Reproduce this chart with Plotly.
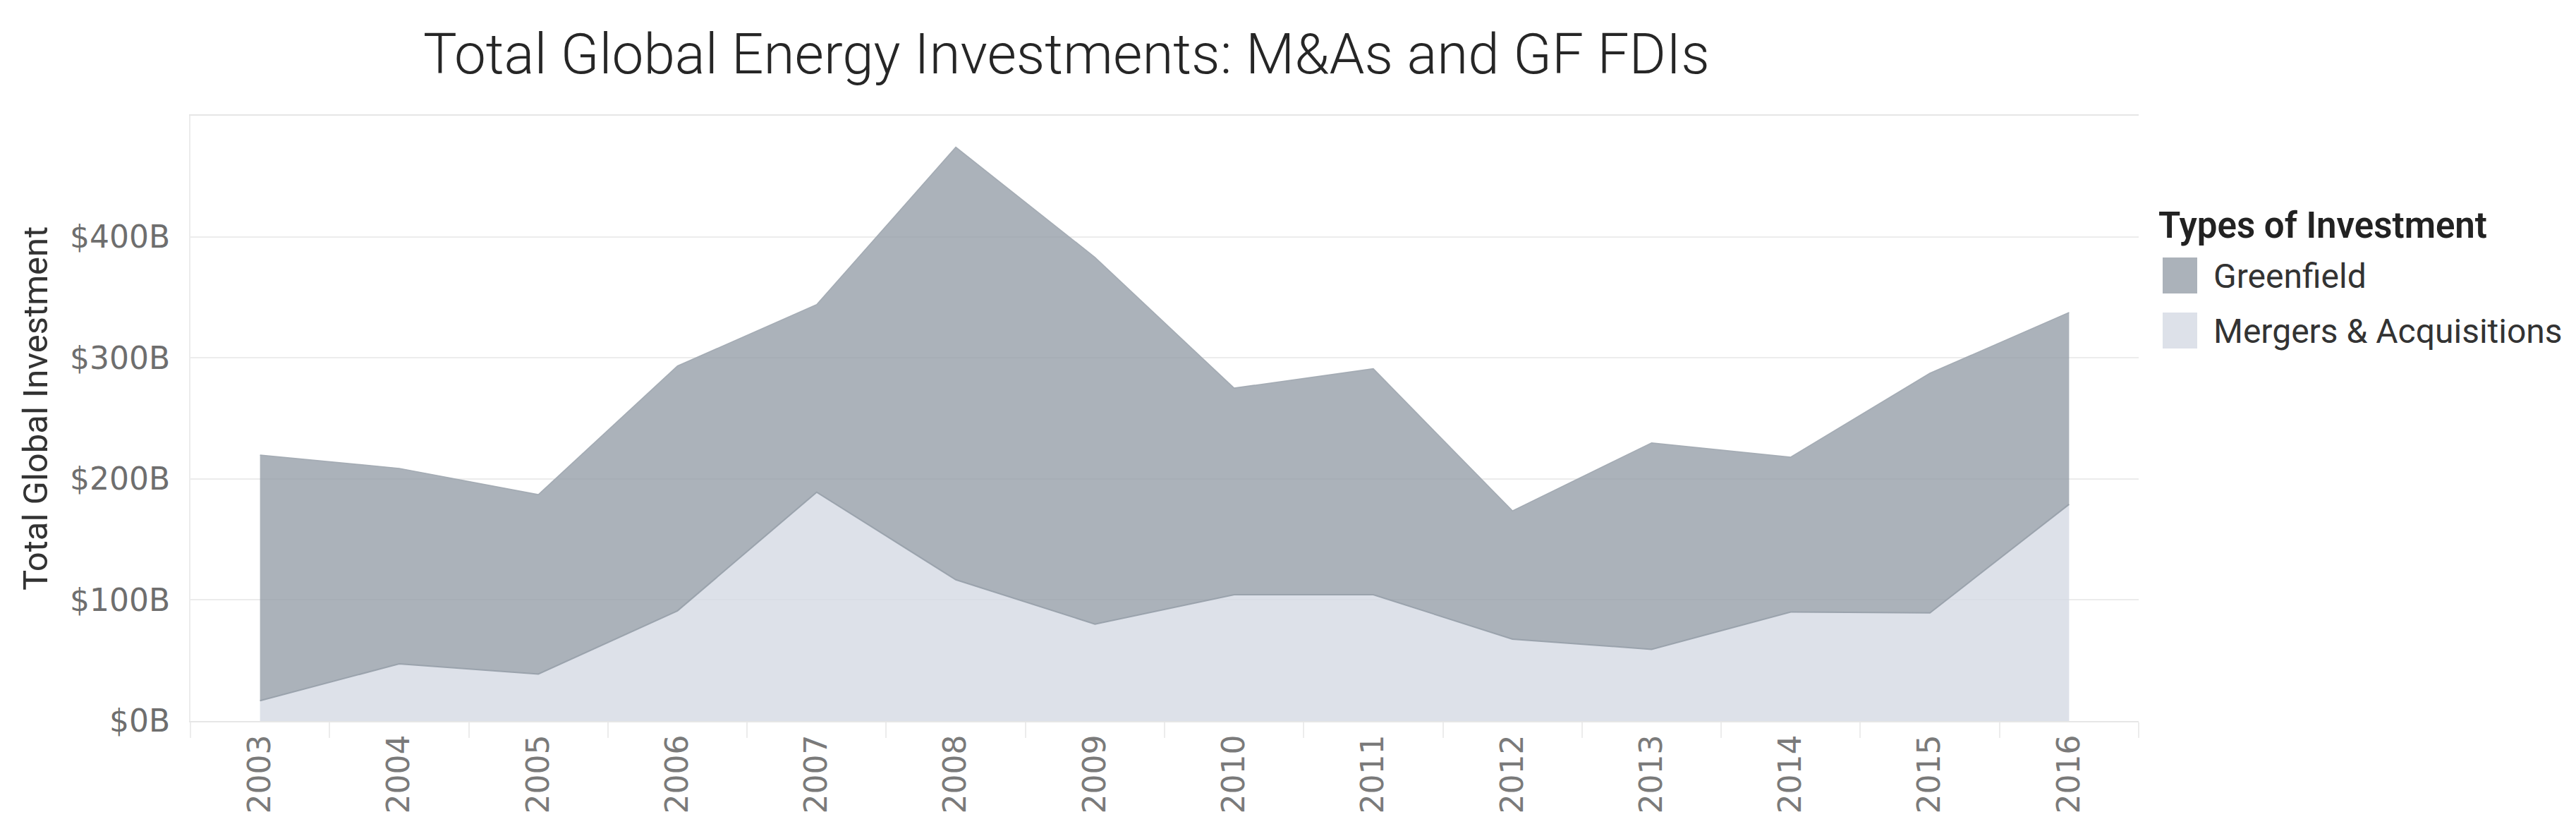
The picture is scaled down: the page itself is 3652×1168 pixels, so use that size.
import plotly.graph_objects as go

# values in billions of USD
years = ["2003", "2004", "2005", "2006", "2007", "2008", "2009",
         "2010", "2011", "2012", "2013", "2014", "2015", "2016"]
mergers_acq = [16.7, 47.2, 38.8, 91.0, 189.0, 116.7, 80.0,
               104.3, 104.3, 67.6, 59.2, 90.0, 89.3, 179.0]
greenfield = [203.0, 161.5, 148.2, 202.3, 155.0, 357.3, 303.0,
              170.7, 186.7, 106.0, 170.6, 128.0, 198.0, 158.5]
y_ticks = [0, 100, 200, 300, 400]
y_labels = ["$%dB" % v for v in y_ticks]
legend_names = ["Greenfield", "Mergers & Acquisitions"]

W, H = 3652, 1168
L, R, T, B = 262, 628, 156, 154
plot_w = W - L - R
plot_h = H - T - B

GF_FILL = "rgba(147,156,166,0.78)"
MA_FILL = "rgba(212,217,227,0.78)"


def px_x(x):
    return (x - L) / plot_w


def px_y(y):
    return (H - B - y) / plot_h


fig = go.Figure()

fig.add_trace(go.Scatter(
    x=years, y=mergers_acq, name=legend_names[1],
    stackgroup="one", mode="lines",
    line=dict(color="rgba(150,158,168,0.9)", width=2),
    fillcolor=MA_FILL, showlegend=False,
))
fig.add_trace(go.Scatter(
    x=years, y=greenfield, name=legend_names[0],
    stackgroup="one", mode="lines",
    line=dict(color="rgba(160,167,176,0.9)", width=1.5),
    fillcolor=GF_FILL, showlegend=False,
))

fig.update_layout(
    width=W, height=H,
    margin=dict(l=L, r=R, t=T, b=B),
    plot_bgcolor="white", paper_bgcolor="white",
    title=dict(
        text="Total Global Energy Investments: M&As and GF FDIs",
        font=dict(family="Roboto", size=80, color="#262626", weight=300),
        x=592 / W, xanchor="left", xref="container",
        y=1 - 68 / H, yanchor="middle", yref="container",
    ),
    showlegend=False,
)

fig.update_xaxes(
    type="category", range=[-0.5, len(years) - 0.5],
    showgrid=False, showline=True, linecolor="#e6e6e6", linewidth=2,
    mirror=True,
    tickson="boundaries", ticks="outside", ticklen=22, tickwidth=2,
    tickcolor="#ececec",
    tickangle=-90,
    tickfont=dict(family="DejaVu Sans", size=44, color="#7a7a7a"),
)
fig.update_yaxes(
    range=[0, 500], tickmode="array", tickvals=y_ticks, ticktext=y_labels,
    showgrid=True, gridcolor="#ececec", gridwidth=2, zeroline=False,
    showline=True, linecolor="#ececec", linewidth=2,
    ticks="", ticklabelstandoff=18,
    tickfont=dict(family="DejaVu Sans", size=44, color="#6e6e6e"),
)

# axis title placed by hand, it sits a little above the plot centre
fig.add_annotation(
    text="Total Global Investment", xref="paper", yref="paper",
    x=px_x(42), y=px_y(571), textangle=-90,
    xanchor="center", yanchor="middle", showarrow=False,
    font=dict(family="Roboto", size=49, color="#333333"),
)

# legend drawn by hand so the swatches match the original size
fig.add_annotation(
    text="Types of Investment", xref="paper", yref="paper",
    x=px_x(3050), y=px_y(312), xanchor="left", yanchor="middle",
    showarrow=False,
    font=dict(family="Roboto", size=51, color="#222222", weight=600),
)
for i, (name, color) in enumerate(zip(legend_names, [GF_FILL, MA_FILL])):
    top = 357 + i * 78
    fig.add_shape(
        type="rect", xref="paper", yref="paper",
        x0=px_x(3058), x1=px_x(3107), y0=px_y(top + 51), y1=px_y(top),
        fillcolor=color, line=dict(width=0),
    )
    fig.add_annotation(
        text=name, xref="paper", yref="paper",
        x=px_x(3128), y=px_y(top + 26), xanchor="left", yanchor="middle",
        showarrow=False,
        font=dict(family="Roboto", size=48, color="#333333"),
    )

fig.write_html("out.html")
